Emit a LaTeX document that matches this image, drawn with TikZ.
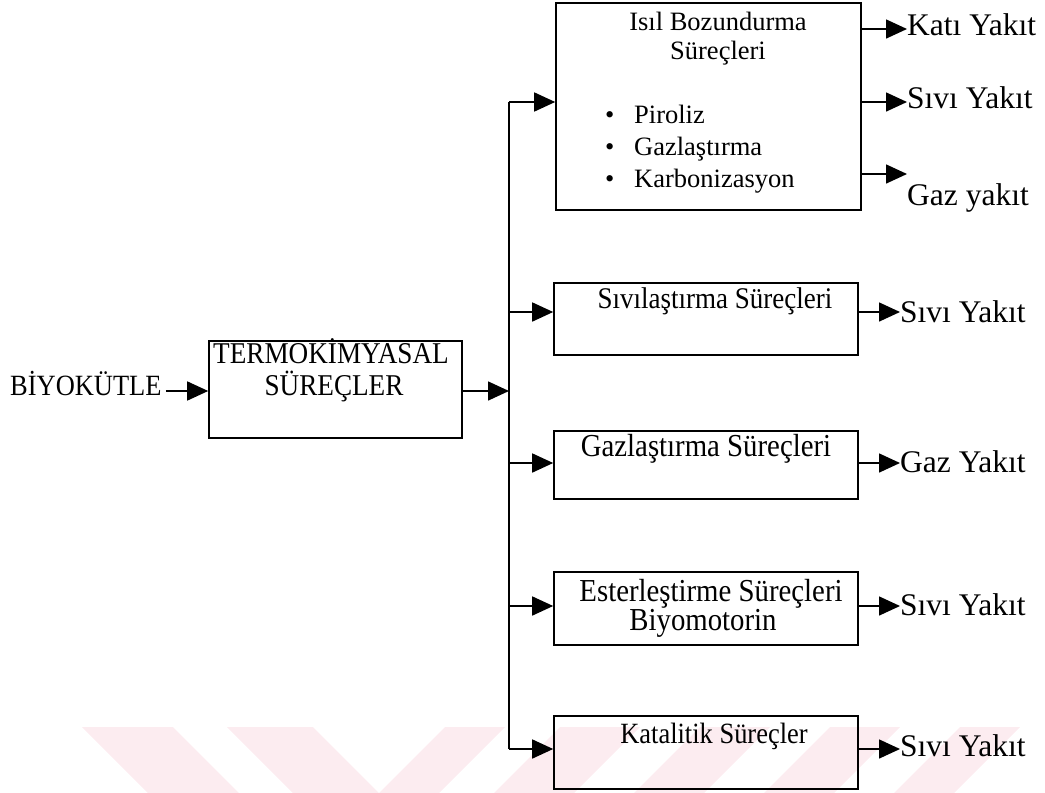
\documentclass[tikz,border=0pt]{standalone}
\usepackage{fontspec}
\setmainfont{Liberation Serif}
\newfontfamily\tallfont[FakeStretch=0.9]{Liberation Serif}
\usetikzlibrary{arrows.meta}
\definecolor{wm}{RGB}{252,236,240}
\begin{document}
\begin{tikzpicture}[x=1pt,y=-1pt,
  box/.style={draw,line width=1.6pt,inner sep=0pt},
  arr/.style={line width=1.6pt,-{Triangle[length=21pt,width=19pt]}},
  ln/.style={line width=1.6pt},
  lbl/.style={font=\fontsize{31.5}{33}\selectfont,inner sep=0pt,anchor=base west},
  txt/.style={font=\fontsize{26.5}{28}\selectfont,inner sep=0pt,anchor=base},
  stripe/.style={fill=wm,draw=none}
]
\useasboundingbox (0,0) rectangle (1045,793);
% watermark stripes
\fill[stripe] (82,727) -- (173,727) -- (239,793) -- (148,793) -- cycle;
\fill[stripe] (227,727) -- (313,727) -- (379,793) -- (293,793) -- cycle;
\fill[stripe] (445,727) -- (505,727) -- (439,793) -- (379,793) -- cycle;
\fill[stripe] (560,727) -- (640,727) -- (574,793) -- (494,793) -- cycle;
\fill[stripe] (700,727) -- (770,727) -- (704,793) -- (634,793) -- cycle;
\fill[stripe] (830,727) -- (900,727) -- (834,793) -- (764,793) -- cycle;
\fill[stripe] (960,727) -- (1020,727) -- (954,793) -- (894,793) -- cycle;

% boxes
\node[box,minimum width=305pt,minimum height=207pt] (isil) at (708.5,106.5) {};
\node[box,minimum width=253pt,minimum height=97pt] (termo) at (335.5,389.5) {};
\node[box,minimum width=304pt,minimum height=72pt] (siv) at (706,319) {};
\node[box,minimum width=304pt,minimum height=68pt] (gaz) at (706,465) {};
\node[box,minimum width=304pt,minimum height=73pt] (ester) at (706,608.5) {};
\node[box,minimum width=304pt,minimum height=73pt] (kat) at (706,752.5) {};

% box texts
\node[txt] (isilA) at (718,30) {Isıl Bozundurma};
\node[txt] (isilB) at (718,59) {Süreçleri};
\node[txt,anchor=base west] (p1) at (605,123) {\makebox[29pt][l]{•}Piroliz};
\node[txt,anchor=base west] (p2) at (605,155) {\makebox[29pt][l]{•}Gazlaştırma};
\node[txt,anchor=base west] (p3) at (605,187) {\makebox[29pt][l]{•}Karbonizasyon};
\node[txt,font=\tallfont\fontsize{30.2}{32}\selectfont] (termoA) at (331,363) {TERMOKİMYASAL};
\node[txt,font=\tallfont\fontsize{30.2}{32}\selectfont] (termoB) at (334,395) {SÜREÇLER};
\node[txt,anchor=base west,font=\tallfont\fontsize{29.4}{31}\selectfont] (bio) at (10,395) {BİYOKÜTLE};
\node[txt,font=\tallfont\fontsize{30}{32}\selectfont] (sivT) at (715,308) {Sıvılaştırma Süreçleri};
\node[txt,font=\tallfont\fontsize{32}{34}\selectfont] (gazT) at (706,456) {Gazlaştırma Süreçleri};
\node[txt,font=\tallfont\fontsize{32}{34}\selectfont] (esterA) at (711,601) {Esterleştirme Süreçleri};
\node[txt,font=\tallfont\fontsize{32}{34}\selectfont] (esterB) at (703,630) {Biyomotorin};
\node[txt,font=\tallfont\fontsize{29.4}{31}\selectfont] (katT) at (714,743) {Katalitik Süreçler};

% output labels
\node[lbl] (o1) at (907,35) {Katı Yakıt};
\node[lbl] (o2) at (907,108) {Sıvı Yakıt};
\node[lbl] (o3) at (907,205) {Gaz yakıt};
\node[lbl] (o4) at (900,322) {Sıvı Yakıt};
\node[lbl] (o5) at (900,472) {Gaz Yakıt};
\node[lbl] (o6) at (900,615) {Sıvı Yakıt};
\node[lbl] (o7) at (900,756) {Sıvı Yakıt};

% bus coordinates
\coordinate (jin) at (0,391);
\coordinate (bustop) at (509,102);
\coordinate (busbot) at (509,749);
\coordinate (ysiv) at (0,312);
\coordinate (ygaz) at (0,463);
\coordinate (yester) at (0,606);
\coordinate (o1y) at (0,29);
\coordinate (o2y) at (0,102);
\coordinate (o3y) at (0,174);

% connectors
\draw[arr] (bio.east |- jin) ++(4,0) -- (termo.west |- jin);
\draw[arr] (termo.east |- jin) -- (bustop |- jin);
\draw[ln] (busbot) -- (bustop);
\draw[arr] (bustop) -- (isil.west |- bustop);
\draw[arr] (bustop |- ysiv) -- (siv.west |- ysiv);
\draw[arr] (bustop |- ygaz) -- (gaz.west |- ygaz);
\draw[arr] (bustop |- yester) -- (ester.west |- yester);
\draw[arr] (busbot) -- (kat.west |- busbot);

\draw[arr] (isil.east |- o1y) -- (o1.west |- o1y);
\draw[arr] (isil.east |- o2y) -- (o2.west |- o2y);
\draw[arr] (isil.east |- o3y) -- (o3.west |- o3y);
\draw[arr] (siv.east |- ysiv) -- (o4.west |- ysiv);
\draw[arr] (gaz.east |- ygaz) -- (o5.west |- ygaz);
\draw[arr] (ester.east |- yester) -- (o6.west |- yester);
\draw[arr] (kat.east |- busbot) -- (o7.west |- busbot);
\end{tikzpicture}
\end{document}
